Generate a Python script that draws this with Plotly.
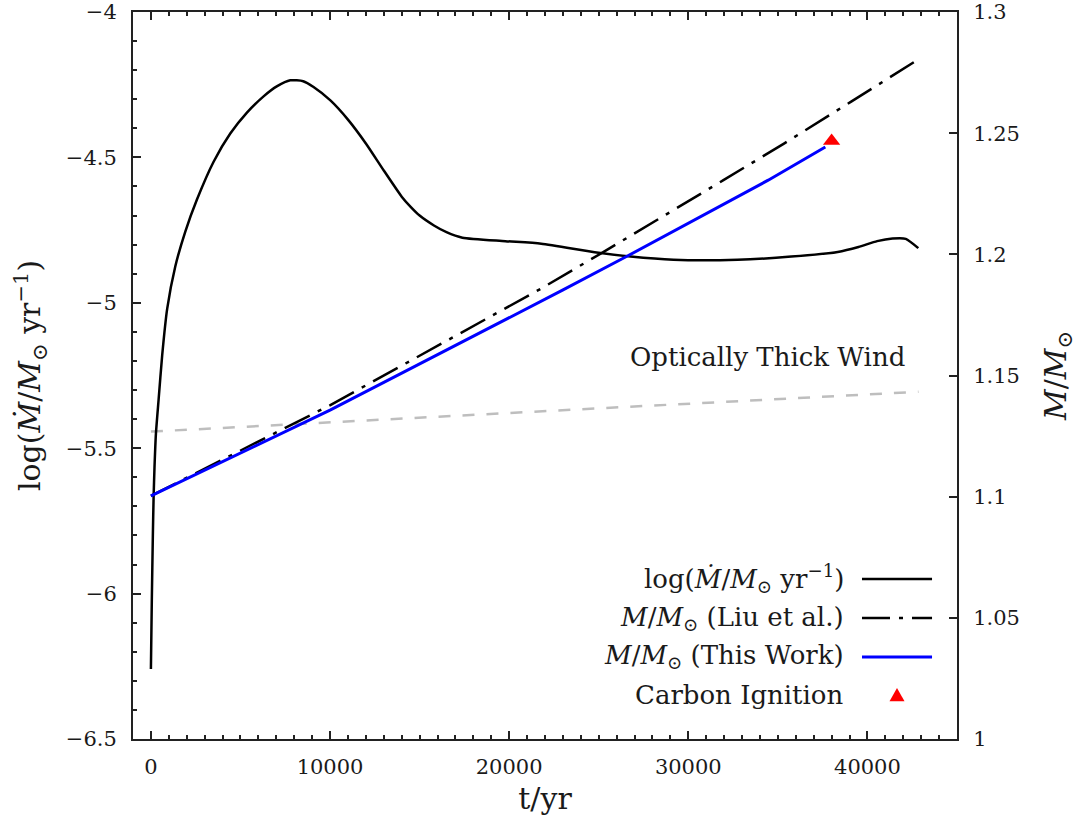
import plotly.graph_objects as go

# ---- data ----
t_mdot = [0, 50, 110, 150, 200, 280, 425, 630, 910, 1360, 1920, 2570, 3500, 4430, 5360,
          6290, 7050, 7780, 8500, 9080, 10020, 11000, 12000, 13000, 14000, 14500, 15000,
          15800, 16500, 17390, 19790, 21790, 24770, 26780, 29170, 32750, 35750, 38340,
          39500, 40540, 41400, 42140, 42840]
log_mdot = [-6.259, -6.024, -5.794, -5.669, -5.566, -5.450, -5.336, -5.18, -5.02, -4.875,
            -4.755, -4.645, -4.515, -4.418, -4.346, -4.290, -4.255, -4.235, -4.238, -4.258,
            -4.304, -4.370, -4.452, -4.545, -4.635, -4.670, -4.700, -4.734, -4.757, -4.776,
            -4.788, -4.797, -4.826, -4.841, -4.852, -4.852, -4.841, -4.825, -4.808, -4.788,
            -4.779, -4.780, -4.812]

t_liu = [0, 10017, 21790, 25180, 31960, 35340, 39070, 42850]
m_liu = [1.1003, 1.1378, 1.1859, 1.2006, 1.2306, 1.2457, 1.2629, 1.2805]

t_this = [0, 10000, 22980, 26575, 34460, 37650]
m_this = [1.1003, 1.1357, 1.1852, 1.1992, 1.2306, 1.2443]

t_thick = [0, 42850]
log_thick = [-5.443, -5.306]

t_ign = [38000]
m_ign = [1.2468]

x_ticks = [0, 10000, 20000, 30000, 40000]

legend_labels = [
    "log(<i>M\u0307</i>/<i>M</i><sub>\u2299</sub> yr<sup>\u22121</sup>)",
    "<i>M</i>/<i>M</i><sub>\u2299</sub> (Liu et al.)",
    "<i>M</i>/<i>M</i><sub>\u2299</sub> (This Work)",
    "Carbon Ignition",
]

FONT = "DejaVu Serif"
TXT = "#1a1a1a"

fig = go.Figure()
fig.add_trace(go.Scatter(x=t_thick, y=log_thick, mode="lines", yaxis="y",
                         line=dict(color="#bebebe", width=2.5, dash="12px,12px"),
                         name="Optically Thick Wind", showlegend=False))
fig.add_trace(go.Scatter(x=t_mdot, y=log_mdot, mode="lines", yaxis="y",
                         line=dict(color="black", width=2.5, shape="spline", smoothing=0.6),
                         name=legend_labels[0], showlegend=False))
fig.add_trace(go.Scatter(x=t_liu, y=m_liu, mode="lines", yaxis="y2",
                         line=dict(color="black", width=2.5, dash="28px,9px,4px,9px"),
                         name=legend_labels[1], showlegend=False))
fig.add_trace(go.Scatter(x=t_this, y=m_this, mode="lines", yaxis="y2",
                         line=dict(color="#0000ff", width=3),
                         name=legend_labels[2], showlegend=False))
fig.add_trace(go.Scatter(x=t_ign, y=m_ign, mode="markers", yaxis="y2",
                         marker=dict(symbol="triangle-up", size=15, color="#ff0000"),
                         name=legend_labels[3], showlegend=False))

# ---- manual gnuplot-style legend (text right-aligned, sample on the right) ----
rows_y = [0.2201, 0.1664, 0.1128, 0.0605]
txt_x = 0.8653
ln_x0, ln_x1 = 0.8847, 0.9697
styles = [dict(color="black", width=2.5),
          dict(color="black", width=2.5, dash="28px,9px,4px,9px"),
          dict(color="#0000ff", width=3)]
annotations = []
shapes = []
for lbl, yy in zip(legend_labels, rows_y):
    annotations.append(dict(text=lbl, x=txt_x, y=yy, xref="paper", yref="paper",
                            xanchor="right", yanchor="middle", showarrow=False,
                            font=dict(family=FONT, size=26, color=TXT)))
for st, yy in zip(styles, rows_y[:3]):
    shapes.append(dict(type="line", xref="paper", yref="paper", x0=ln_x0, x1=ln_x1,
                       y0=yy, y1=yy, line=st))
cx, cy = 0.9272, rows_y[3]
shapes.append(dict(type="path", xref="paper", yref="paper",
                   path=f"M {cx-0.0091},{cy-0.0085} L {cx+0.0091},{cy-0.0085} L {cx},{cy+0.0095} Z",
                   fillcolor="#ff0000", line=dict(width=0)))

annotations.append(dict(text="Optically Thick Wind", x=42200, y=-5.188, xref="x", yref="y",
                        xanchor="right", yanchor="middle", showarrow=False,
                        font=dict(family=FONT, size=26, color=TXT)))

axis_common = dict(showgrid=False, zeroline=False, showline=True, linecolor="#222",
                   linewidth=2, ticks="inside", tickcolor="#222", tickwidth=1.5,
                   automargin=False, ticklabeloverflow="allow",
                   tickfont=dict(family=FONT, size=21, color=TXT))

fig.update_layout(
    template="none",
    width=1088, height=824,
    margin=dict(l=133, r=131, t=12, b=85, autoexpand=False),
    plot_bgcolor="white", paper_bgcolor="white",
    showlegend=False,
    xaxis=dict(**axis_common, range=[-1000, 45000], tickvals=x_ticks, tickformat="d",
               ticklen=8, mirror="ticks",
               minor=dict(dtick=1000, tick0=0, ticks="inside", ticklen=4, tickcolor="#222"),
               ticklabelstandoff=8,
               title=dict(text="t/yr", font=dict(family=FONT, size=30, color=TXT), standoff=10)),
    yaxis=dict(**axis_common, range=[-6.5, -4], tick0=-6.5, dtick=0.5, ticklen=8,
               minor=dict(dtick=0.1, tick0=-6.5, ticks="inside", ticklen=4, tickcolor="#222"),
               ticklabelstandoff=10,
               title=dict(text=legend_labels[0], font=dict(family=FONT, size=30, color=TXT),
                          standoff=16)),
    yaxis2=dict(**axis_common, overlaying="y", side="right", range=[1.0, 1.3], tick0=1.0,
                dtick=0.05, ticklen=8, ticklabelstandoff=10,
                title=dict(text="<i>M</i>/<i>M</i><sub>\u2299</sub>",
                           font=dict(family=FONT, size=30, color=TXT), standoff=26)),
    annotations=annotations,
    shapes=shapes,
)

# remove the page's default body margin so the figure fills the 1088x824 window exactly
fig.write_html("out.html", config={"displayModeBar": False},
               post_script="document.body.style.margin='0px';")
